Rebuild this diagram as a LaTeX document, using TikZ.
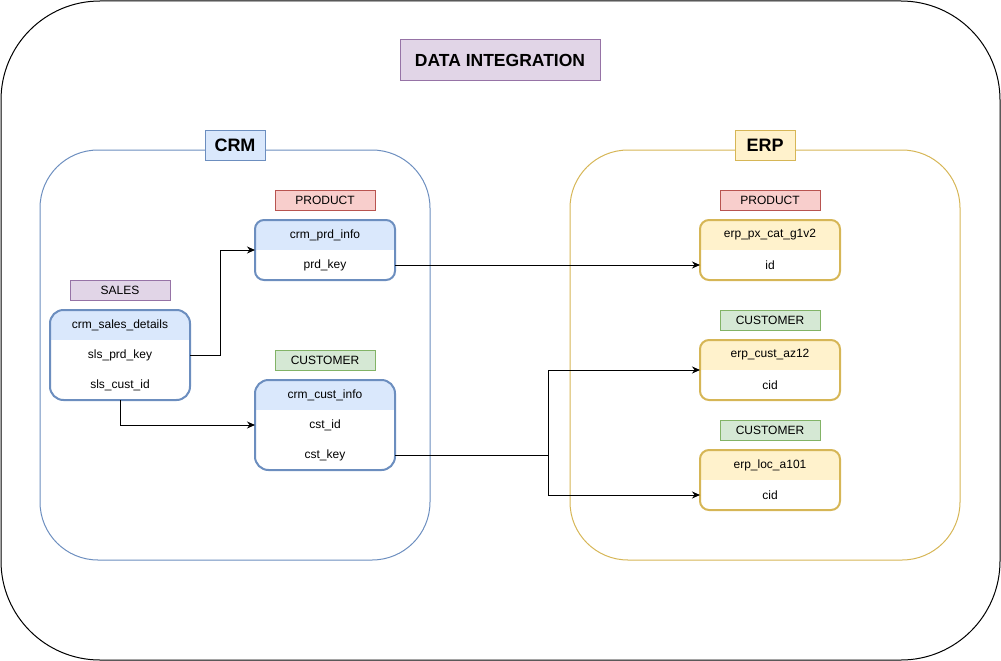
\documentclass[tikz,border=0pt]{standalone}
\usepackage{fontspec}
\setmainfont{Liberation Sans}
\usetikzlibrary{positioning, arrows.meta}
\definecolor{crmline}{HTML}{6C8EBF}
\definecolor{crmfill}{HTML}{DAE8FC}
\definecolor{erpline}{HTML}{D6B656}
\definecolor{erpfill}{HTML}{FFF2CC}
\definecolor{prodline}{HTML}{B85450}
\definecolor{prodfill}{HTML}{F8CECC}
\definecolor{custline}{HTML}{82B366}
\definecolor{custfill}{HTML}{D5E8D4}
\definecolor{salesline}{HTML}{9673A6}
\definecolor{salesfill}{HTML}{E1D5E7}
\tikzset{
  container/.style={
    draw,
    rectangle,
    line width=1pt,
    minimum width=390pt,
    minimum height=410pt,
    rounded corners=58pt,
    inner sep=0pt,
    outer sep=0pt
  },
  heading/.style={
    draw,
    rectangle,
    line width=1pt,
    minimum width=60pt,
    minimum height=30pt,
    inner sep=0pt,
    outer sep=0pt,
    font=\fontsize{18}{20}\selectfont\bfseries
  },
  tag/.style={
    draw,
    rectangle,
    line width=1pt,
    minimum width=100pt,
    minimum height=20pt,
    inner sep=0pt,
    outer sep=0pt,
    font=\fontsize{12}{14}\selectfont
  },
  tblframe/.style={
    draw=#1,
    rectangle,
    line width=2pt,
    fill=white,
    minimum width=140pt,
    inner sep=0pt,
    outer sep=0pt
  },
  crmtbl/.style={
    tblframe=crmline,
    path picture={\fill[crmfill, sharp corners] (path picture bounding box.north west) rectangle ([yshift=-30pt]path picture bounding box.north east);}
  },
  erptbl/.style={
    tblframe=erpline,
    path picture={\fill[erpfill, sharp corners] (path picture bounding box.north west) rectangle ([yshift=-30pt]path picture bounding box.north east);}
  },
  field/.style={
    rectangle,
    minimum width=140pt,
    minimum height=30pt,
    inner sep=0pt,
    outer sep=0pt,
    font=\fontsize{12}{14}\selectfont
  },
  link/.style={
    draw=black,
    line width=1pt,
    -{Stealth[length=8pt, width=7pt]}
  }
}

\begin{document}
\begin{tikzpicture}[x=1pt, y=-1pt]
  \useasboundingbox (0,0) rectangle (1001,661);

  % outer frame and title
  \node[draw, line width=1pt, minimum width=999pt, minimum height=659pt, rounded corners=99pt, inner sep=0pt] (frame) at (500.5,330.5) {};
  \node[heading, fill=salesfill, draw=salesline, minimum width=200pt, minimum height=40pt, font=\fontsize{17.5}{20}\selectfont\bfseries] (title) at (500,60) {DATA INTEGRATION};

  % source systems
  \node[container, draw=crmline] (crmBox) at (235,355) {};
  \node[container, draw=erpline] (erpBox) at (765,355) {};
  \node[heading, fill=crmfill, draw=crmline] (crmHead) at ([yshift=5pt]crmBox.north) {CRM};
  \node[heading, fill=erpfill, draw=erpline] (erpHead) at ([yshift=5pt]erpBox.north) {ERP};

  % CRM tables
  \node[crmtbl, minimum height=60pt, rounded corners=9pt] (prdTbl) at (325,250) {};
  \node[field, below=0pt of prdTbl.north] (prdHead) {crm\_prd\_info};
  \node[field, below=0pt of prdHead] (prdKey) {prd\_key};
  \node[tag, fill=prodfill, draw=prodline, above=10pt of prdTbl] (crmPrdTag) {PRODUCT};

  \node[crmtbl, minimum height=90pt, rounded corners=13.5pt] (salesTbl) at (120,355) {};
  \node[field, below=0pt of salesTbl.north] (salesHead) {crm\_sales\_details};
  \node[field, below=0pt of salesHead] (slsPrd) {sls\_prd\_key};
  \node[field, below=0pt of slsPrd] (slsCust) {sls\_cust\_id};
  \node[tag, fill=salesfill, draw=salesline, above=10pt of salesTbl] (salesTag) {SALES};

  \node[crmtbl, minimum height=90pt, rounded corners=13.5pt] (custTbl) at (325,425) {};
  \node[field, below=0pt of custTbl.north] (custHead) {crm\_cust\_info};
  \node[field, below=0pt of custHead] (cstId) {cst\_id};
  \node[field, below=0pt of cstId] (cstKey) {cst\_key};
  \node[tag, fill=custfill, draw=custline, above=10pt of custTbl] (crmCustTag) {CUSTOMER};

  % ERP tables
  \node[erptbl, minimum height=60pt, rounded corners=9pt] (pxTbl) at (770,250) {};
  \node[field, below=0pt of pxTbl.north] (pxHead) {erp\_px\_cat\_g1v2};
  \node[field, below=0pt of pxHead] (pxId) {id};
  \node[tag, fill=prodfill, draw=prodline, above=10pt of pxTbl] (erpPrdTag) {PRODUCT};

  \node[erptbl, minimum height=60pt, rounded corners=9pt] (azTbl) at (770,370) {};
  \node[field, below=0pt of azTbl.north] (azHead) {erp\_cust\_az12};
  \node[field, below=0pt of azHead] (azCid) {cid};
  \node[tag, fill=custfill, draw=custline, above=10pt of azTbl] (azTag) {CUSTOMER};

  \node[erptbl, minimum height=60pt, rounded corners=9pt] (locTbl) at (770,480) {};
  \node[field, below=0pt of locTbl.north] (locHead) {erp\_loc\_a101};
  \node[field, below=0pt of locHead] (locCid) {cid};
  \node[tag, fill=custfill, draw=custline, above=10pt of locTbl] (locTag) {CUSTOMER};

  % connectors
  \draw[link] (slsPrd.east) -- ++(30,0) |- (prdKey.north west);
  \draw[link] (salesTbl.south) |- (cstId.west);
  \draw[link] (prdKey.east) -- (pxId.west);
  \draw[link] (cstKey.east) -- ++(153,0) coordinate (split) |- (azCid.north west);
  \draw[link] (split) |- (locCid.west);
\end{tikzpicture}
\end{document}
